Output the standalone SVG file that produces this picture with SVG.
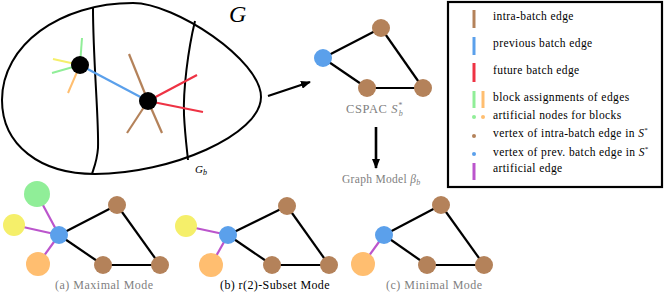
<svg xmlns="http://www.w3.org/2000/svg" width="664" height="293" viewBox="0 0 664 293">
<defs>
<marker id="ah" markerWidth="10" markerHeight="8" refX="9" refY="4" orient="auto" markerUnits="userSpaceOnUse">
<path d="M0,0 L10,4 L0,8 Z" fill="#000"/>
</marker>
</defs>
<style>
.k{stroke:#000;stroke-width:2;fill:none}
.e{stroke:#000;stroke-width:2.2}
.br{fill:#b4825a}.bl{fill:#5ba0eb}.gr{fill:#90ee98}.ye{fill:#f5ef6a}.or{fill:#ffbe70}
.sbr{stroke:#b4825a;stroke-width:2.2}.sbl{stroke:#5ba0eb;stroke-width:2.2}.sre{stroke:#ee3344;stroke-width:2.2}
.sgr{stroke:#90ee98;stroke-width:2}.sye{stroke:#f5ef6a;stroke-width:2}.sor{stroke:#ffbe70;stroke-width:2}
.pu{stroke:#bb55cc;stroke-width:2.2}
.lg{stroke-width:3}
</style>
<g id="egg">
<path class="k" d="M2,100 C2,45 60,3 133,3 C175,3 261,60 261,97 C261,135 170,174 95,174 C40,174 2,145 2,100 Z"/>
<path class="k" d="M93,8 C93,60 99,120 98,148 C97,162 93,170 92,174"/>
<path class="k" d="M195,21 C188,50 183,90 184,115 C185,135 187,150 188,160"/>
<line class="sgr" x1="80" y1="65" x2="82" y2="38"/>
<line class="sye" x1="80" y1="65" x2="53" y2="59"/>
<line class="sgr" x1="80" y1="65" x2="52" y2="73"/>
<line class="sor" x1="80" y1="65" x2="68" y2="93"/>
<line class="sbl" x1="80" y1="65" x2="148" y2="101"/>
<line class="sbr" x1="148" y1="101" x2="129" y2="54"/>
<line class="sbr" x1="148" y1="101" x2="127" y2="133"/>
<line class="sbr" x1="148" y1="101" x2="162" y2="133"/>
<line class="sre" x1="148" y1="101" x2="197" y2="75"/>
<line class="sre" x1="148" y1="101" x2="203" y2="112"/>
<circle cx="80" cy="65" r="9" fill="#000"/>
<circle cx="148" cy="101" r="9" fill="#000"/>
<text x="229" y="22" font-family="Liberation Serif,serif" font-style="italic" font-size="24">G</text>
<text x="195" y="173" font-family="Liberation Serif,serif" font-style="italic" font-size="11">G<tspan font-size="8" dy="2">b</tspan></text>
</g>
<g id="connectors">
<line x1="268" y1="96" x2="310" y2="82" stroke="#000" stroke-width="2.2" marker-end="url(#ah)"/>
<line x1="376" y1="127" x2="376" y2="168" stroke="#000" stroke-width="2.6" marker-end="url(#ah)"/>
</g>
<g id="cspac">
<line class="e" x1="323" y1="58" x2="381" y2="28"/>
<line class="e" x1="323" y1="58" x2="367" y2="88"/>
<line class="e" x1="381" y1="28" x2="423" y2="88"/>
<line class="e" x1="367" y1="88" x2="423" y2="88"/>
<circle class="bl" cx="323" cy="58" r="9"/>
<circle class="br" cx="381" cy="28" r="9"/>
<circle class="br" cx="367" cy="88" r="9"/>
<circle class="br" cx="423" cy="88" r="9"/>
<text x="346" y="113" font-family="Liberation Serif,serif" fill="#808080" font-size="12.5" letter-spacing="0.6">CSPAC <tspan font-style="italic">S</tspan><tspan font-style="italic" font-size="8" dy="-5">*</tspan><tspan font-style="italic" font-size="8" dx="-4" dy="8">b</tspan></text>
</g>
<g id="graphmodel">
<text x="342" y="183" font-family="Liberation Serif,serif" fill="#808080" font-size="11.5" letter-spacing="0.3">Graph Model <tspan font-style="italic">β</tspan><tspan font-style="italic" font-size="8" dy="2">b</tspan></text>
</g>
<g id="legend" font-family="Liberation Serif,serif" font-size="11.5" letter-spacing="0.4">
<rect x="448" y="2" width="214" height="185" fill="#fff" stroke="#000" stroke-width="2.2"/>
<line class="sbr lg" x1="474" y1="10" x2="474" y2="28"/>
<text x="493" y="20">intra-batch edge</text>
<line class="sbl lg" x1="474" y1="37" x2="474" y2="55"/>
<text x="493" y="47">previous batch edge</text>
<line class="sre lg" x1="474" y1="63" x2="474" y2="82"/>
<text x="493" y="74">future batch edge</text>
<line class="sgr lg" x1="474" y1="91" x2="474" y2="108"/>
<line class="sor lg" x1="483" y1="91" x2="483" y2="108"/>
<text x="493" y="101">block assignments of edges</text>
<circle class="gr" cx="474" cy="117" r="2"/>
<circle class="or" cx="483" cy="117" r="2"/>
<text x="493" y="119">artificial nodes for blocks</text>
<circle class="br" cx="474" cy="136" r="2"/>
<text x="493" y="137">vertex of intra-batch edge in <tspan font-style="italic">S</tspan><tspan font-size="7" dy="-5">*</tspan></text>
<circle class="bl" cx="474" cy="154" r="2"/>
<text x="493" y="156">vertex of prev. batch edge in <tspan font-style="italic">S</tspan><tspan font-size="7" dy="-5">*</tspan></text>
<line class="pu lg" x1="474" y1="163" x2="474" y2="180"/>
<text x="493" y="172">artificial edge</text>
</g>
<g id="maximal">
<line class="pu" x1="59" y1="235" x2="37" y2="194"/>
<line class="pu" x1="59" y1="235" x2="14" y2="225"/>
<line class="pu" x1="59" y1="235" x2="38" y2="264"/>
<line class="e" x1="59" y1="235" x2="117" y2="205"/>
<line class="e" x1="59" y1="235" x2="103" y2="265"/>
<line class="e" x1="117" y1="205" x2="160" y2="265"/>
<line class="e" x1="103" y1="265" x2="160" y2="265"/>
<circle class="gr" cx="37" cy="194" r="13"/>
<circle class="ye" cx="14" cy="225" r="11"/>
<circle class="or" cx="38" cy="264" r="12"/>
<circle class="bl" cx="59" cy="235" r="9"/>
<circle class="br" cx="117" cy="205" r="9"/>
<circle class="br" cx="103" cy="265" r="9"/>
<circle class="br" cx="160" cy="265" r="9"/>
<text x="55" y="289" font-family="Liberation Serif,serif" fill="#808080" font-size="12" letter-spacing="0.5">(a) Maximal Mode</text>
</g>
<g id="subset">
<line class="pu" x1="228" y1="235" x2="186" y2="226"/>
<line class="pu" x1="228" y1="235" x2="211" y2="265"/>
<line class="e" x1="228" y1="235" x2="287" y2="206"/>
<line class="e" x1="228" y1="235" x2="272" y2="265"/>
<line class="e" x1="287" y1="206" x2="329" y2="265"/>
<line class="e" x1="272" y1="265" x2="329" y2="265"/>
<circle class="ye" cx="186" cy="226" r="11"/>
<circle class="or" cx="211" cy="265" r="12"/>
<circle class="bl" cx="228" cy="235" r="9"/>
<circle class="br" cx="287" cy="206" r="9"/>
<circle class="br" cx="272" cy="265" r="9"/>
<circle class="br" cx="329" cy="265" r="9"/>
<text x="220" y="289" font-family="Liberation Serif,serif" font-size="12" fill="#000" letter-spacing="0.4">(b) r(2)-Subset Mode</text>
</g>
<g id="minimal">
<line class="pu" x1="384" y1="235" x2="363" y2="264"/>
<line class="e" x1="384" y1="235" x2="441" y2="205"/>
<line class="e" x1="384" y1="235" x2="427" y2="265"/>
<line class="e" x1="441" y1="205" x2="484" y2="265"/>
<line class="e" x1="427" y1="265" x2="484" y2="265"/>
<circle class="or" cx="363" cy="264" r="12"/>
<circle class="bl" cx="384" cy="235" r="9"/>
<circle class="br" cx="441" cy="205" r="9"/>
<circle class="br" cx="427" cy="265" r="9"/>
<circle class="br" cx="484" cy="265" r="9"/>
<text x="386" y="289" font-family="Liberation Serif,serif" fill="#808080" font-size="12" letter-spacing="0.5">(c) Minimal Mode</text>
</g>
</svg>
